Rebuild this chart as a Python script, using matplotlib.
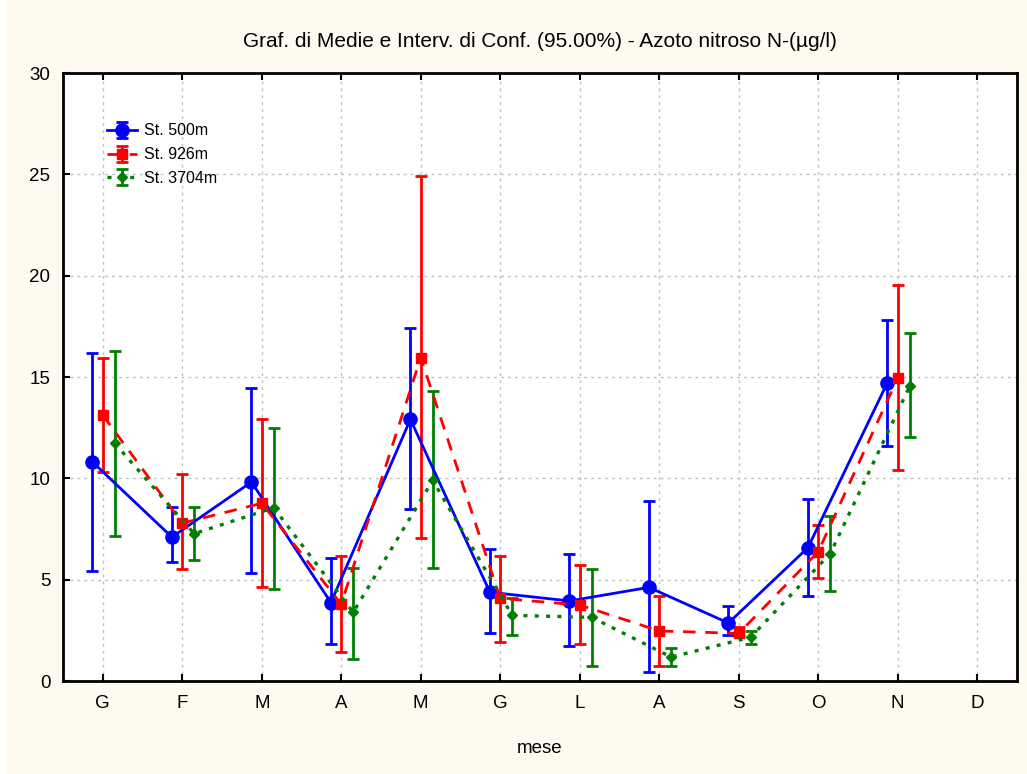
import matplotlib
matplotlib.use("Agg")
import matplotlib.pyplot as plt
import numpy as np
from matplotlib.patches import Rectangle

plt.rcParams['font.family'] = ['Liberation Sans', 'DejaVu Sans']

months = ["G", "F", "M", "A", "M", "G", "L", "A", "S", "O", "N", "D"]
series_names = ["St. 500m", "St. 926m", "St. 3704m"]

# means and 95% confidence limits per month (December has no data)
mean_500 = [10.81, 7.10, 9.82, 3.87, 12.91, 4.38, 3.95, 4.62, 2.86, 6.58, 14.72, np.nan]
lo_500 = [5.43, 5.86, 5.31, 1.85, 8.50, 2.35, 1.73, 0.43, 2.29, 4.21, 11.61, np.nan]
hi_500 = [16.17, 8.57, 14.44, 6.09, 17.42, 6.52, 6.28, 8.88, 3.68, 9.00, 17.79, np.nan]

mean_926 = [13.12, 7.79, 8.77, 3.79, 15.96, 4.08, 3.75, 2.47, 2.35, 6.38, 14.96, np.nan]
lo_926 = [10.30, 5.52, 4.65, 1.42, 7.08, 1.94, 1.84, 0.76, 2.22, 5.10, 10.41, np.nan]
hi_926 = [15.95, 10.20, 12.93, 6.19, 24.93, 6.17, 5.74, 4.21, 2.68, 7.70, 19.55, np.nan]

mean_3704 = [11.73, 7.27, 8.55, 3.39, 9.90, 3.24, 3.14, 1.18, 2.16, 6.28, 14.54, np.nan]
lo_3704 = [7.15, 5.97, 4.55, 1.10, 5.57, 2.29, 0.76, 0.76, 1.83, 4.42, 12.05, np.nan]
hi_3704 = [16.28, 8.57, 12.47, 5.57, 14.33, 4.11, 5.51, 1.61, 2.47, 8.12, 17.17, np.nan]

fig = plt.figure(figsize=(10.27, 7.74), dpi=100, facecolor="#fffaf0")
fig.patches.append(Rectangle((0, 0), 6 / 1027, 1, transform=fig.transFigure,
                             facecolor="white", edgecolor="none", zorder=-1))
ax = fig.add_axes([63 / 1027, 1 - 681 / 774, (1017 - 63) / 1027, (681 - 73) / 774])
ax.set_facecolor("white")

x = np.arange(len(months))
styles = [
    dict(mean=mean_500, lo=lo_500, hi=hi_500, dx=-0.13, color="#0000ff", ls="-",
         marker="o", ms=9.5, lw=2.0),
    dict(mean=mean_926, lo=lo_926, hi=hi_926, dx=0.0, color="#ff0000", ls=(0, (4.5, 3.5)),
         marker="s", ms=7.5, lw=2.0),
    dict(mean=mean_3704, lo=lo_3704, hi=hi_3704, dx=0.15, color="#008000", ls=(0, (1.2, 2.2)),
         marker="D", ms=5.5, lw=2.4),
]

for name, s in zip(series_names, styles):
    m = np.array(s["mean"], dtype=float)
    yerr = np.vstack([m - np.array(s["lo"]), np.array(s["hi"]) - m])
    ax.errorbar(x + s["dx"], m, yerr=yerr, color=s["color"], linestyle=s["ls"],
                linewidth=s["lw"], marker=s["marker"], markersize=s["ms"],
                elinewidth=2.0, capsize=4.5, capthick=2.0, label=name, zorder=3)

ax.set_xlim(-0.5, 11.5)
ax.set_ylim(0, 30)
ax.set_xticks(x)
ax.set_xticklabels(months)
ax.set_yticks(np.arange(0, 31, 5))

ax.grid(True, linestyle=(0, (2, 3)), color="#c0c0c0", linewidth=1.0, zorder=0)
ax.set_axisbelow(True)
for sp in ax.spines.values():
    sp.set_linewidth(2.0)
    sp.set_color("black")

ax.tick_params(axis="x", direction="in", top=True, bottom=True, length=5, width=1.5,
               labelsize=13.5, pad=10)
ax.tick_params(axis="y", direction="in", left=True, right=False, length=5, width=1.5,
               labelsize=13.5, pad=9)

ax.set_title("Graf. di Medie e Interv. di Conf. (95.00%) - Azoto nitroso N-(\u00b5g/l)",
             fontsize=15, pad=19)
ax.set_xlabel("mese", fontsize=13.5, labelpad=20)

leg = ax.legend(loc="upper left", bbox_to_anchor=(0.041, 0.925), frameon=False,
                fontsize=11.5, handlelength=1.9, handletextpad=0.4, labelspacing=0.55,
                borderaxespad=0, borderpad=0.3)

fig.savefig("out.png", dpi=100, facecolor=fig.get_facecolor())
